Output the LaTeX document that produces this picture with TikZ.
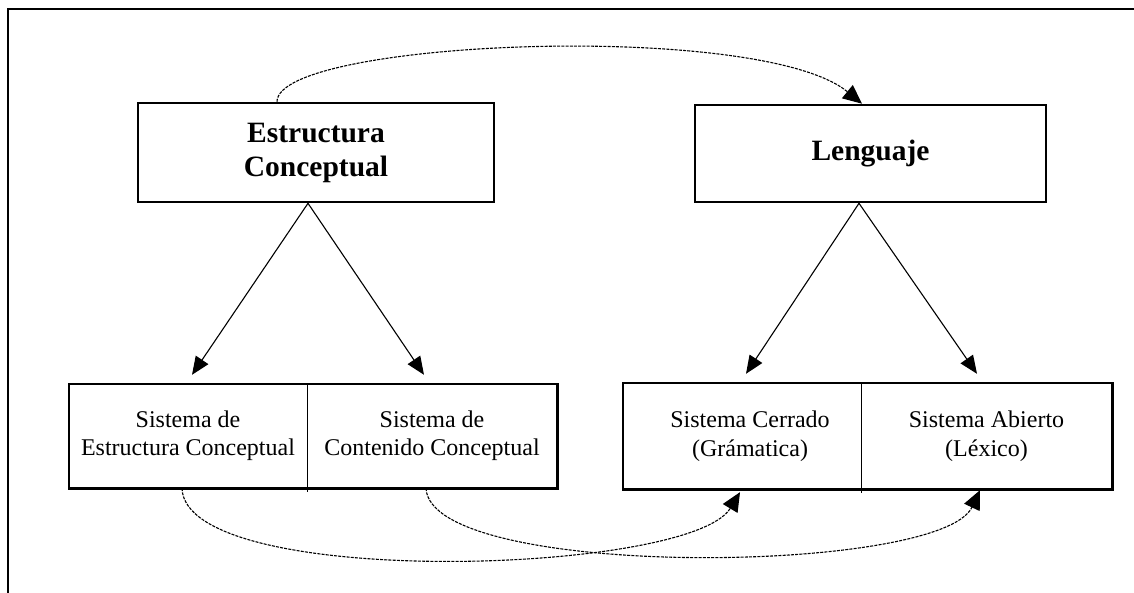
\documentclass[tikz,border=0pt]{standalone}
\usepackage{fontspec}
\setmainfont{Liberation Serif}
\usetikzlibrary{arrows.meta,calc}
\newcommand{\lowtext}[1]{\raisebox{-3pt}{\begin{tabular}{@{}c@{}}#1\end{tabular}}}
\tikzset{
  frameline/.style={line width=2.4pt},
  bigbox/.style={draw, line width=2.6pt, inner sep=0pt, align=center, font=\fontsize{29.5}{34}\selectfont\bfseries},
  cell/.style={inner sep=0pt, align=center, font=\fontsize{24}{28.5}\selectfont},
  outerbox/.style={line width=2.6pt},
  divider/.style={line width=1.1pt},
  link/.style={line width=1.1pt, -{Triangle[length=18pt,width=15pt]}},
  dlink/.style={line width=1.1pt, dash pattern=on 3pt off 1.2pt, -{Triangle[length=19pt,width=17pt]}}
}
\begin{document}
\begin{tikzpicture}[x=1pt,y=-1pt]
\useasboundingbox (0,0) rectangle (1134,593);
\draw[frameline] (8,594) -- (8,9) -- (1136,9);

\node[bigbox, minimum width=356pt, minimum height=99pt] (ec) at (316,152.5) {Estructura\\Conceptual};
\node[bigbox, minimum width=351pt, minimum height=97pt] (len) at (870.5,153.5) {Lenguaje};

\node[cell, minimum width=238pt, minimum height=104pt] (ls) at (188,436) {\lowtext{Sistema de\\Estructura Conceptual}};
\node[cell, minimum width=250pt, minimum height=104pt] (lc) at (432,436) {\lowtext{Sistema de\\Contenido Conceptual}};
\node[cell, minimum width=238pt, minimum height=106pt] (rl) at (742,436) {\hspace*{16pt}Sistema Cerrado\\\hspace*{16pt}(Grámatica)};
\node[cell, minimum width=251pt, minimum height=106pt] (rr) at (986.5,436) {Sistema Abierto\\(Léxico)};

\draw[outerbox] (ls.north west) rectangle (lc.south east);
\draw[divider] (ls.north east) -- ($(ls.south east)+(0,4)$);
\draw[outerbox] (rl.north west) rectangle (rr.south east);
\draw[divider] (rl.north east) -- ($(rl.south east)+(0,4)$);

\coordinate (eca) at ($(ec.south)+(-8,0)$);
\coordinate (lena) at ($(len.south)+(-11.5,0)$);
\draw[link] (eca) -- ($(ls.north)+(4,-9)$);
\draw[link] (eca) -- ($(lc.north)+(-8,-9)$);
\draw[link] (lena) -- ($(rl.north)+(4,-9)$);
\draw[link] (lena) -- ($(rr.north)+(-9.5,-9)$);

\draw[dlink] ($(ec.north)+(-39,0)$) .. controls (277,40) and (760,20) .. ($(len.north)+(-8.5,0)$);
\draw[dlink] ($(ls.south)+(-6,0)$) .. controls (185,590) and (690,575) .. ($(rl.south)+(-2,3)$);
\draw[dlink] ($(lc.south)+(-6,0)$) .. controls (430,580) and (940,575) .. ($(rr.south)+(-6.5,1)$);
\end{tikzpicture}
\end{document}
